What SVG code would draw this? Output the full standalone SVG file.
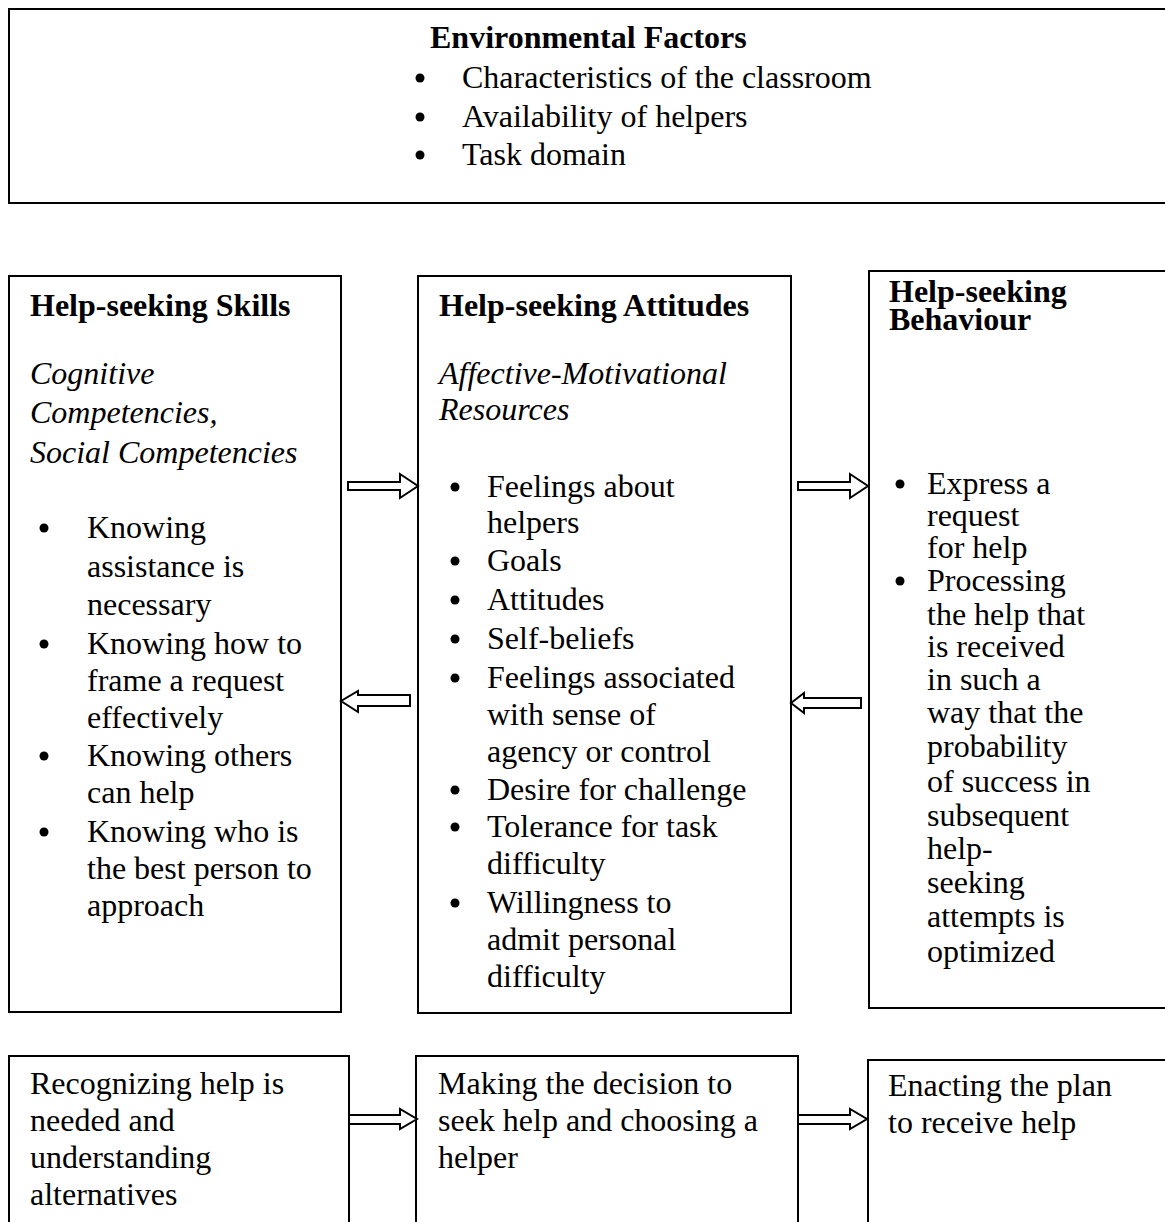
<svg xmlns="http://www.w3.org/2000/svg" width="1165" height="1222" viewBox="0 0 1165 1222">
<style>
.box{fill:#fff;stroke:#000;stroke-width:2}
.t{font-family:"Liberation Serif","Times New Roman",serif;font-size:32px;fill:#000}
.b{font-weight:bold}
.i{font-style:italic}
.blt{fill:#000}
.arr{fill:#fff;stroke:#000;stroke-width:2;stroke-linejoin:miter}
</style>
<rect width="1165" height="1222" fill="#fff"/>
<g id="environmental-factors">
<rect class="box" x="9" y="9" width="1170" height="194"/>
<text class="t b" x="430" y="48">Environmental Factors</text>
<circle class="blt" cx="420" cy="78" r="4.5"/>
<text class="t" x="462" y="88">Characteristics of the classroom</text>
<circle class="blt" cx="420" cy="117" r="4.5"/>
<text class="t" x="462" y="127">Availability of helpers</text>
<circle class="blt" cx="420" cy="155" r="4.5"/>
<text class="t" x="462" y="165">Task domain</text>
</g>
<g id="help-seeking-skills">
<rect class="box" x="9" y="276" width="332" height="736"/>
<text class="t b" x="30" y="316">Help-seeking Skills</text>
<text class="t i" x="30" y="384">Cognitive</text>
<text class="t i" x="30" y="423">Competencies,</text>
<text class="t i" x="30" y="463">Social Competencies</text>
<circle class="blt" cx="44" cy="528" r="4.5"/>
<text class="t" x="87" y="538">Knowing</text>
<text class="t" x="87" y="577">assistance is</text>
<text class="t" x="87" y="615">necessary</text>
<circle class="blt" cx="44" cy="644" r="4.5"/>
<text class="t" x="87" y="654">Knowing how to</text>
<text class="t" x="87" y="691">frame a request</text>
<text class="t" x="87" y="728">effectively</text>
<circle class="blt" cx="44" cy="756" r="4.5"/>
<text class="t" x="87" y="766">Knowing others</text>
<text class="t" x="87" y="803">can help</text>
<circle class="blt" cx="44" cy="832" r="4.5"/>
<text class="t" x="87" y="842">Knowing who is</text>
<text class="t" x="87" y="879">the best person to</text>
<text class="t" x="87" y="916">approach</text>
</g>
<g id="help-seeking-attitudes">
<rect class="box" x="418" y="276" width="373" height="737"/>
<text class="t b" x="439" y="316">Help-seeking Attitudes</text>
<text class="t i" x="439" y="384">Affective-Motivational</text>
<text class="t i" x="439" y="420">Resources</text>
<circle class="blt" cx="455" cy="487" r="4.5"/>
<text class="t" x="487" y="497">Feelings about</text>
<text class="t" x="487" y="533">helpers</text>
<circle class="blt" cx="455" cy="561" r="4.5"/>
<text class="t" x="487" y="571">Goals</text>
<circle class="blt" cx="455" cy="600" r="4.5"/>
<text class="t" x="487" y="610">Attitudes</text>
<circle class="blt" cx="455" cy="639" r="4.5"/>
<text class="t" x="487" y="649">Self-beliefs</text>
<circle class="blt" cx="455" cy="678" r="4.5"/>
<text class="t" x="487" y="688">Feelings associated</text>
<text class="t" x="487" y="725">with sense of</text>
<text class="t" x="487" y="762">agency or control</text>
<circle class="blt" cx="455" cy="790" r="4.5"/>
<text class="t" x="487" y="800">Desire for challenge</text>
<circle class="blt" cx="455" cy="827" r="4.5"/>
<text class="t" x="487" y="837">Tolerance for task</text>
<text class="t" x="487" y="874">difficulty</text>
<circle class="blt" cx="455" cy="903" r="4.5"/>
<text class="t" x="487" y="913">Willingness to</text>
<text class="t" x="487" y="950">admit personal</text>
<text class="t" x="487" y="987">difficulty</text>
</g>
<g id="help-seeking-behaviour">
<rect class="box" x="869" y="271" width="310" height="737"/>
<text class="t b" x="889" y="302">Help-seeking<tspan x="889" y="330">Behaviour</tspan></text>
<circle class="blt" cx="900" cy="484" r="4.5"/>
<text class="t" x="927" y="494">Express a<tspan x="927" y="526">request</tspan><tspan x="927" y="558">for help</tspan></text>
<circle class="blt" cx="900" cy="581" r="4.5"/>
<text class="t" x="927" y="591">Processing<tspan x="927" y="625">the help that</tspan><tspan x="927" y="657">is received</tspan><tspan x="927" y="690">in such a</tspan><tspan x="927" y="723">way that the</tspan><tspan x="927" y="757">probability</tspan><tspan x="927" y="792">of success in</tspan><tspan x="927" y="826">subsequent</tspan><tspan x="927" y="859">help-</tspan><tspan x="927" y="893">seeking</tspan><tspan x="927" y="927">attempts is</tspan><tspan x="927" y="962">optimized</tspan></text>
</g>
<g id="recognizing">
<rect class="box" x="9" y="1056" width="340" height="200"/>
<text class="t" x="30" y="1094">Recognizing help is</text>
<text class="t" x="30" y="1131">needed and</text>
<text class="t" x="30" y="1168">understanding</text>
<text class="t" x="30" y="1205">alternatives</text>
</g>
<g id="making-decision">
<rect class="box" x="416" y="1056" width="382" height="200"/>
<text class="t" x="438" y="1094">Making the decision to</text>
<text class="t" x="438" y="1131">seek help and choosing a</text>
<text class="t" x="438" y="1168">helper</text>
</g>
<g id="enacting">
<rect class="box" x="868" y="1060" width="310" height="200"/>
<text class="t" x="888" y="1096">Enacting the plan</text>
<text class="t" x="888" y="1133">to receive help</text>
</g>
<g id="connectors">
<path class="arr" d="M348,482 H400 V474 L418,486 L400,498 V490 H348 Z"/>
<path class="arr" d="M798,482 H850 V474 L868,486 L850,498 V490 H798 Z"/>
<path class="arr" d="M410,695 H358 V691 L341,701 L358,712 V706 H410 Z"/>
<path class="arr" d="M861,698 H804 V693 L791,703 L804,713 V708 H861 Z"/>
<path class="arr" d="M349,1115 H400 V1109 L417,1119 L400,1129 V1124 H349 Z"/>
<path class="arr" d="M798,1115 H850 V1109 L867,1119 L850,1129 V1124 H798 Z"/>
</g>
</svg>
